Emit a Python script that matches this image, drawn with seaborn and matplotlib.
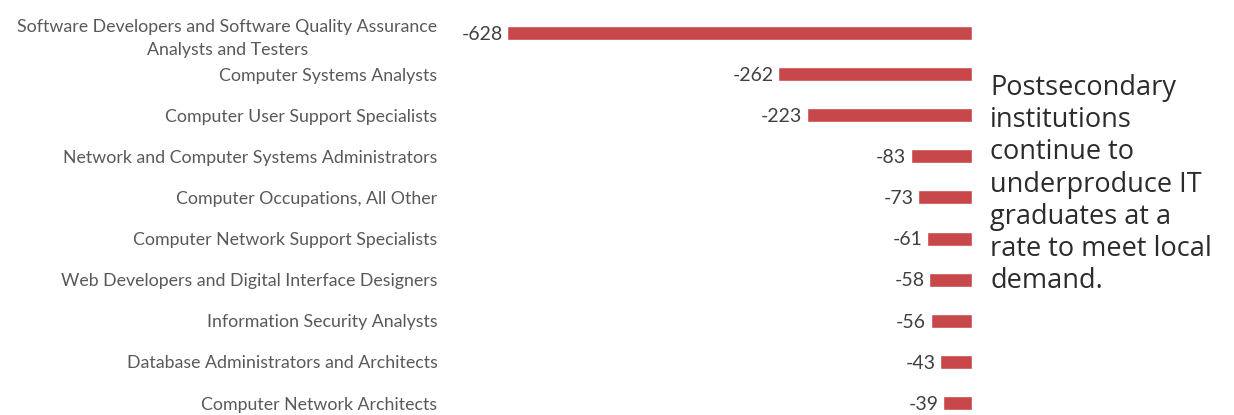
import matplotlib
matplotlib.use("Agg")
import matplotlib.pyplot as plt
import seaborn as sns
import pandas as pd

occupations = [
    "Software Developers and Software Quality Assurance\nAnalysts and Testers",
    "Computer Systems Analysts",
    "Computer User Support Specialists",
    "Network and Computer Systems Administrators",
    "Computer Occupations, All Other",
    "Computer Network Support Specialists",
    "Web Developers and Digital Interface Designers",
    "Information Security Analysts",
    "Database Administrators and Architects",
    "Computer Network Architects",
]
gaps = [-628, -262, -223, -83, -73, -61, -58, -56, -43, -39]
note = "Postsecondary\ninstitutions\ncontinue to\nunderproduce IT\ngraduates at a\nrate to meet local\ndemand."

df = pd.DataFrame({"occupation": occupations, "gap": gaps})

sns.set_theme(style="white")
plt.rcParams["font.family"] = ["Lato", "DejaVu Sans"]

fig = plt.figure(figsize=(12.34, 4.15), dpi=100)
ax = fig.add_axes([450 / 1234, 0, (972 - 450) / 1234, 1])

sns.barplot(data=df, x="gap", y="occupation", orient="h", color="#C8474A",
            saturation=1, width=0.34, ax=ax)

ax.set_xlim(-705, 0)
ax.set_ylim(9.29, -0.803)
ax.set_xlabel("")
ax.set_ylabel("")
ax.set_xticks([])
for s in ax.spines.values():
    s.set_visible(False)
ax.tick_params(axis="y", length=0, pad=9)
for t in ax.get_yticklabels():
    t.set_fontsize(12.8)
    t.set_color("#595959")
    t.set_multialignment("center")
    t.set_linespacing(1.55)

for i, v in enumerate(gaps):
    ax.text(v - 6, i + 0.03, f"{v}", ha="right", va="center", fontsize=14, color="#404040")

fig.text(990 / 1234, 1 - 74 / 415, note, ha="left", va="top", fontsize=19.5,
         color="#2b2b2b", linespacing=1.2, family=["Open Sans", "DejaVu Sans"])

fig.savefig("out.png", dpi=100, facecolor="white")
